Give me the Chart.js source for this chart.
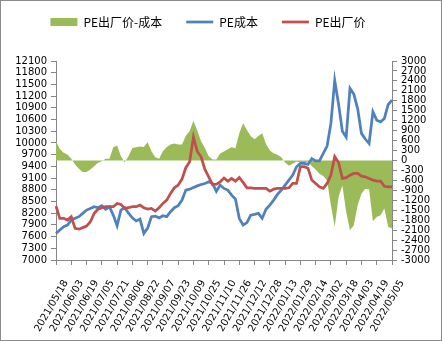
<!DOCTYPE html>
<html>
<head>
<meta charset="utf-8">
<script src="https://cdn.jsdelivr.net/npm/chart.js@4/dist/chart.umd.min.js"></script>
<style>
  body { margin: 0; background: #fff; }
  canvas { display: block; }
</style>
</head>
<body>
<canvas id="chartPE" width="442" height="341"></canvas>
<script>
// x축 눈금 (16일 간격)
var tickLabels = ["2021/05/18", "2021/06/03", "2021/06/19", "2021/07/05", "2021/07/21", "2021/08/06",
    "2021/08/22", "2021/09/07", "2021/09/23", "2021/10/09", "2021/10/25", "2021/11/10", "2021/11/26",
    "2021/12/12", "2021/12/28", "2022/01/13", "2022/01/29", "2022/02/14", "2022/03/02", "2022/03/18",
    "2022/04/03", "2022/04/19", "2022/05/05"];

// PE成本 (4일 간격)
var costValues = [7680, 7768, 7853, 7896, 8024, 8067, 8110, 8195, 8280, 8322,
    8365, 8340, 8390, 8300, 8365, 8150, 7880, 8280, 8340, 8200,
    8080, 8000, 8050, 7680, 7820, 8110, 8125, 8080, 8135, 8110,
    8237, 8340, 8390, 8535, 8792, 8815, 8860, 8900, 8935, 8960,
    9004, 8960, 8760, 8920, 8834, 8792, 8664, 8560, 8067, 7896,
    7960, 8150, 8170, 8195, 8067, 8300, 8408, 8535, 8680, 8792,
    8920, 9048, 9175, 9390, 9475, 9475, 9450, 9600, 9540, 9540,
    9730, 9920, 10500, 11600, 11000, 10300, 10150, 11400, 11250, 10880,
    10245, 10100, 9985, 10797, 10584, 10541, 10627, 10985, 11096];

// PE出厂价
var priceValues = [8380, 8067, 8067, 8024, 8110, 7810, 7790, 7830, 7870, 7980,
    8195, 8300, 8340, 8365, 8365, 8365, 8450, 8425, 8322, 8340,
    8365, 8365, 8408, 8340, 8305, 8322, 8255, 8340, 8450, 8535,
    8706, 8850, 8920, 9075, 9365, 9517, 10150, 9780, 9645, 9320,
    9133, 8935, 8945, 9004, 9100, 9020, 9091, 9020, 9115, 8990,
    8850, 8850, 8834, 8834, 8834, 8834, 8765, 8815, 8834, 8834,
    8834, 8850, 8962, 8962, 9390, 9390, 9350, 9048, 8962, 8877,
    8835, 8962, 9175, 9650, 9500, 9091, 9110, 9175, 9219, 9219,
    9150, 9133, 9091, 9048, 9020, 9020, 8890, 8877, 8877];

// PE出厂价-成本 (오른쪽 축)
var spreadValues = [580, 350, 230, 180, 50, -120, -250, -350, -350, -270,
    -170, -70, -20, 50, 50, 400, 450, 130, -50, 130,
    380, 400, 420, 410, 550, 280, 100, 50, 280, 410,
    480, 510, 480, 480, 750, 880, 1200, 900, 580, 380,
    130, 30, 30, 210, 270, 340, 400, 370, 820, 1120,
    920, 740, 640, 740, 820, 500, 300, 220, 170, 100,
    -60, -160, -100, -30, -60, -60, -30, -170, -270, -400,
    -470, -600, -1350, -2000, -1100, -750, -1550, -2100, -1950, -1350,
    -1000, -850, -870, -1830, -1700, -1650, -1450, -2000, -2050];

var seriesNames = ["PE出厂价-成本", "PE成本", "PE出厂价"];

// 포인트 인덱스 (라벨은 4칸마다)
var pointLabels = costValues.map(function(v, i) { return i; });

var axisColor = "#868686";
var tickFont = { family: "DejaVu Sans", size: 10 };

// 배경 + 테두리, 범례 위치 보정
var framePlugin = {
    id: "frame",
    afterLayout: function(chart) {
        // 범례를 왼쪽으로 조금 이동
        chart.legend.right = chart.legend.left + chart.width - 26;
    },
    beforeDraw: function(chart) {
        var ctx = chart.ctx;
        ctx.save();
        ctx.fillStyle = "#fff";
        ctx.fillRect(0, 0, chart.width, chart.height);
        ctx.strokeStyle = "#8c8c8c";
        ctx.lineWidth = 1;
        ctx.strokeRect(0.5, 0.5, chart.width - 1, chart.height - 1);
        ctx.restore();
    }
};

var _el = document.getElementById("chartPE").getContext("2d");
var myChartPE = new Chart(_el, {
    type: "line",
    data: {
        labels: pointLabels,
        datasets: [{
            label: seriesNames[0],
            data: spreadValues,
            yAxisID: "y1",
            fill: "origin",
            backgroundColor: "#9BBB59",
            borderColor: "#9BBB59",
            borderWidth: 0,
            pointRadius: 0,
            pointStyle: "rect",
            tension: 0,
            order: 2
        }, {
            label: seriesNames[1],
            data: costValues,
            yAxisID: "y",
            borderColor: "#4F81BD",
            backgroundColor: "#4F81BD",
            borderWidth: 2.75,
            pointRadius: 0,
            pointStyle: "line",
            fill: false,
            order: 1
        }, {
            label: seriesNames[2],
            data: priceValues,
            yAxisID: "y",
            borderColor: "#C0504D",
            backgroundColor: "#C0504D",
            borderWidth: 2.75,
            pointRadius: 0,
            pointStyle: "line",
            fill: false,
            order: 0
        }]
    },
    options: {
        responsive: false,
        animation: false,
        devicePixelRatio: 1,
        layout: { padding: { top: -8, left: 0, right: 0, bottom: 0 } },
        plugins: {
            tooltip: { enabled: false },
            legend: {
                position: "top",
                labels: {
                    usePointStyle: true,
                    pointStyleWidth: 27,
                    boxHeight: 8,
                    padding: 24,
                    color: "#000",
                    font: { family: "Noto Sans CJK SC", size: 12 },
                    sort: function(a, b) { return a.datasetIndex - b.datasetIndex; }
                }
            }
        },
        scales: {
            // 범례 아래 여백용
            xTop: {
                type: "category",
                position: "top",
                grid: { display: false },
                border: { display: false },
                ticks: { display: false },
                afterFit: function(s) { s.height = 23; }
            },
            x: {
                type: "category",
                offset: false,
                grid: { drawOnChartArea: false, tickLength: 5, color: axisColor },
                border: { color: axisColor },
                ticks: {
                    autoSkip: false,
                    maxRotation: 60,
                    minRotation: 60,
                    padding: 13,
                    labelOffset: 10,
                    color: "#000",
                    font: tickFont,
                    callback: function(v, i) {
                        return i % 4 === 0 ? tickLabels[i / 4] : null;
                    }
                },
                afterFit: function(s) { s.height = 81; }
            },
            y: {
                position: "left",
                min: 7000,
                max: 12100,
                grid: { drawOnChartArea: false, tickLength: 5, color: axisColor },
                border: { color: axisColor },
                ticks: {
                    stepSize: 300,
                    autoSkip: false,
                    color: "#000",
                    font: tickFont,
                    padding: 4,
                    callback: function(v) { return String(v); }
                },
                afterFit: function(s) { s.width = 56; }
            },
            y1: {
                position: "right",
                min: -3000,
                max: 3000,
                grid: { drawOnChartArea: false, tickLength: 5, color: axisColor },
                border: { color: axisColor },
                ticks: {
                    stepSize: 300,
                    autoSkip: false,
                    color: "#000",
                    font: tickFont,
                    padding: 4,
                    callback: function(v) { return String(v); }
                },
                afterFit: function(s) { s.width = 50; }
            }
        }
    },
    plugins: [framePlugin]
});
</script>
</body>
</html>
